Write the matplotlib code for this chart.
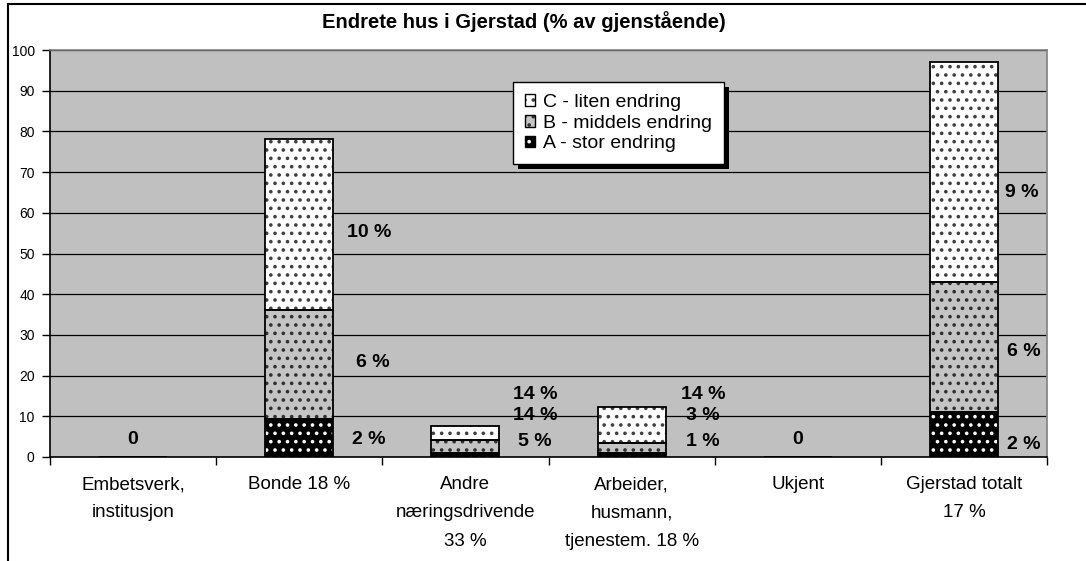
import matplotlib
matplotlib.use("Agg")
import matplotlib.pyplot as plt
from matplotlib.patches import Patch, Rectangle
from matplotlib.lines import Line2D
from matplotlib.legend_handler import HandlerTuple
from matplotlib.transforms import IdentityTransform
import numpy as np

plt.rcParams['font.family'] = ['Liberation Sans', 'DejaVu Sans']
plt.rcParams['hatch.linewidth'] = 1.4

categories = ["Embetsverk,\ninstitusjon", "Bonde 18 %", "Andre\nnæringsdrivende\n33 %",
              "Arbeider,\nhusmann,\ntjenestem. 18 %", "Ukjent", "Gjerstad totalt\n17 %"]
series_names = ["C - liten endring", "B - middels endring", "A - stor endring"]
stor = [0, 9.3, 1.0, 0.9, 0, 11.0]
middels = [0, 26.9, 3.2, 2.5, 0, 32.0]
liten = [0, 41.9, 3.3, 8.8, 0, 54.0]

# data labels: (category index, text, y value)
label_cat = [0, 1, 1, 1, 2, 2, 2, 3, 3, 3, 4, 5, 5, 5]
label_txt = ["0", "10 %", "6 %", "2 %", "14 %", "14 %", "5 %", "14 %", "3 %", "1 %", "0", "9 %", "6 %", "2 %"]
label_y = [4.2, 55.2, 23.2, 4.2, 15.3, 10.3, 3.7, 15.3, 10.3, 3.7, 4.2, 65.0, 25.9, 3.0]
label_dx = [0.0, 0.42, 0.44, 0.42, 0.42, 0.42, 0.42, 0.43, 0.43, 0.43, 0.0, 0.35, 0.36, 0.36]

W, H = 1086, 561
fig = plt.figure(figsize=(W / 100, H / 100), dpi=100)
fig.patch.set_facecolor('white')
ax = fig.add_axes([50 / W, 1 - 457 / H, (1047 - 50) / W, (457 - 50) / H])
ax.set_facecolor('#c0c0c0')

x = np.arange(len(categories))
bw = 0.41
styles = [  # fill, hatch colour
    ('black', 'white'),
    ('#c4c4c4', '#303030'),
    ('white', '#404040'),
]
bottoms = np.zeros(len(categories))
handles = []
for vals, (fc, hc), name in zip([stor, middels, liten], styles, series_names[::-1]):
    v = np.array(vals, dtype=float)
    ax.bar(x, v, bw, bottom=bottoms, color=fc, edgecolor=hc, hatch='..', linewidth=0, zorder=3)
    ax.bar(x, v, bw, bottom=bottoms, fill=False, edgecolor='black', linewidth=1.3, zorder=4)
    handles.append((Patch(facecolor=fc, edgecolor=hc, hatch='..', linewidth=0),
                    Patch(fill=False, edgecolor='black', linewidth=1.0)))
    bottoms = bottoms + v

ax.set_xlim(-0.5, len(categories) - 0.5)
ax.set_ylim(0, 100)
ax.set_yticks(np.arange(0, 101, 10))
ax.yaxis.grid(True, color='black', linewidth=0.9, zorder=1)
ax.set_axisbelow(True)
ax.tick_params(axis='y', direction='out', length=6, width=1, pad=5, labelsize=10, color='black')
ax.set_xticks(x)
ax.set_xticklabels(categories, fontsize=13.5, linespacing=1.85, va='top')
ax.set_xticks(np.arange(-0.5, len(categories), 1), minor=True)
ax.tick_params(axis='x', which='major', length=0, pad=14)
ax.tick_params(axis='x', which='minor', direction='out', length=6, width=1, color='black')
for s in ['top', 'right']:
    ax.spines[s].set_color('#808080')
    ax.spines[s].set_linewidth(1.2)
for s in ['left', 'bottom']:
    ax.spines[s].set_color('black')
    ax.spines[s].set_linewidth(1.2)

for c, t, yv, dx in zip(label_cat, label_txt, label_y, label_dx):
    ax.text(c + dx, yv, t, ha='center', va='center', fontsize=14, fontweight='bold', zorder=6)

leg = ax.legend(handles[::-1], series_names, handler_map={tuple: HandlerTuple(ndivide=1)},
                loc='upper left', bbox_to_anchor=((513 - 50) / (1047 - 50), 1 - (82 - 50) / 407),
                fontsize=14, frameon=True, fancybox=False, framealpha=1, edgecolor='black',
                handlelength=0.55, handleheight=0.55, handletextpad=0.4, labelspacing=0.2,
                borderpad=0.6, borderaxespad=0)
leg.get_frame().set_linewidth(1.0)
leg.set_zorder(10)

fig.canvas.draw()
bb = leg.get_window_extent()
shadow = Rectangle((bb.x0 + 5, bb.y0 - 5), bb.width, bb.height, transform=IdentityTransform(),
                   facecolor='black', edgecolor='none', zorder=9)
ax.add_artist(shadow)

fig.text(524 / W, 1 - 22 / H, "Endrete hus i Gjerstad (% av gjenstående)", ha='center', va='center',
         fontsize=14.5, fontweight='bold')

fig.add_artist(Line2D([8 / W, 1], [1 - 4 / H, 1 - 4 / H], color='black', linewidth=1.5, transform=fig.transFigure))
fig.add_artist(Line2D([8 / W, 8 / W], [0, 1 - 4 / H], color='black', linewidth=1.5, transform=fig.transFigure))

fig.savefig('out.png', dpi=100)
